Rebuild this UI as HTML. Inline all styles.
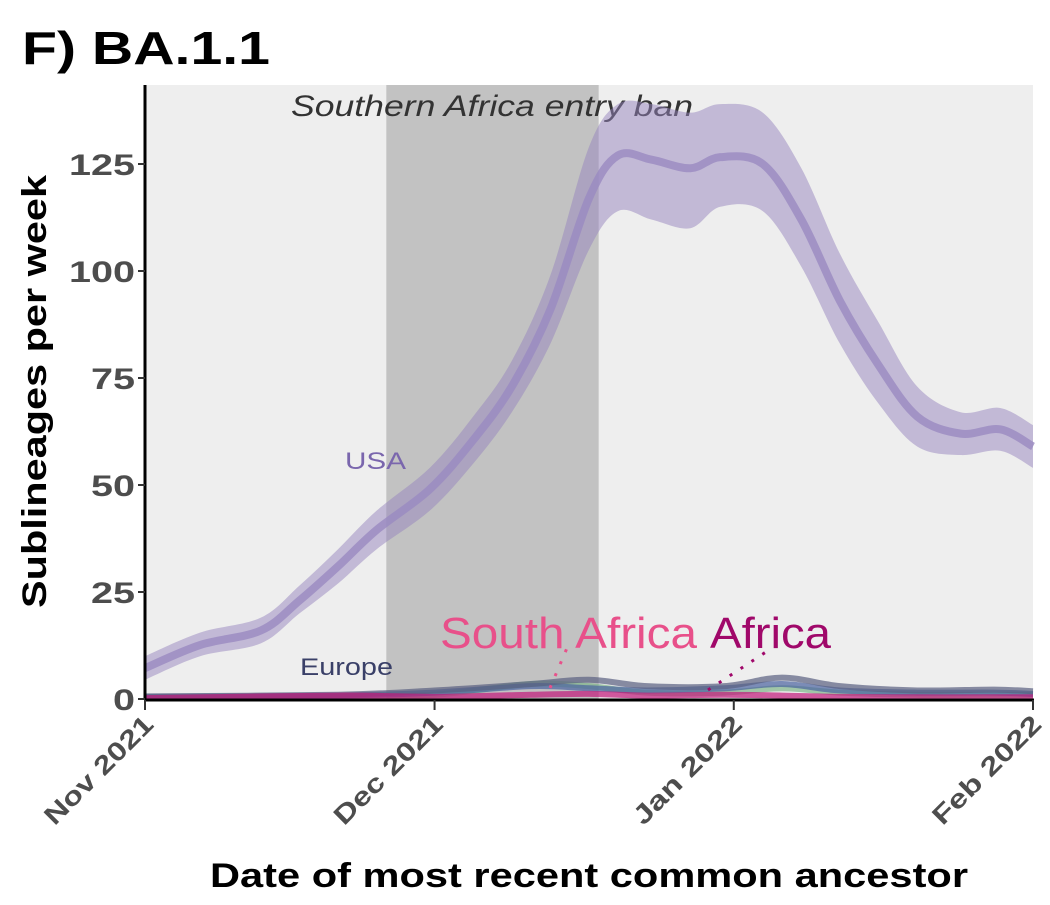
<!DOCTYPE html>
<html><head><meta charset="utf-8"><style>
body{margin:0;background:#fff;width:1050px;height:900px;overflow:hidden}
text{font-family:"Liberation Sans",sans-serif}
</style></head><body>
<svg width="1050" height="900">
<g id="plot"></g>
</svg>
<script>
const days=[0,5.7,12,16,20,24,29.5,34,38,42,46,49,52.5,56.5,59.6,64,68,72,76,80,84.5,88.6,92];
const usaMean=[7.2,12.6,16,23,31,39.5,49,60.5,73,91,117,127,126,124,126.6,125,112,93,78,66,62,63,59];
const usaLow=[4.5,10,13,20,27,35,44,55,67,83,105,114,112,110,115,114,101,83,69,59,57,58,54];
const usaHigh=[10,15.5,19,26.5,35,44,54,66,79,99,129,139,139,137,139,137,124,104,88,73,67,68,64];
const eurDays=[0,20,30,40,46,52,60,66,72,80,88,92];
const eurVals=[0.6,1,2,3.5,4.5,3,3,5,3,2,2.2,1.8];
const greenVals=[0.3,0.5,1,3.5,3,1.5,1.5,2.5,1.5,1,1,1];
const blueVals=[0.5,0.8,1.5,3,2.5,2,2.5,3.5,2,1.5,1.5,1.2];
const pinkVals=[0.2,0.8,0.5,1,1.2,0.8,1,0.8,0.5,0.4,0.4,0.4];
const yTicks=[0,25,50,75,100,125];
const xTickDays=[0,30,61,92];
const xTickLabels=["Nov 2021","Dec 2021","Jan 2022","Feb 2022"];
const x=d=>145+d*(888/92), y=v=>699-v*4.28;
const NS="http://www.w3.org/2000/svg", g=document.getElementById('plot');
function mk(t,a,txt){const e=document.createElementNS(NS,t);for(const k in a)e.setAttribute(k,a[k]);if(txt!==undefined)e.textContent=txt;g.appendChild(e);return e;}
function P(ds,vs){return ds.map((d,i)=>[x(d),y(vs[i])]);}
function smooth(p,start){let s=start?('M'+p[0][0]+','+p[0][1]):('L'+p[0][0]+','+p[0][1]);
 for(let i=0;i<p.length-1;i++){const p0=p[Math.max(0,i-1)],p1=p[i],p2=p[i+1],p3=p[Math.min(p.length-1,i+2)];
 s+=` C${p1[0]+(p2[0]-p0[0])/6},${p1[1]+(p2[1]-p0[1])/6} ${p2[0]-(p3[0]-p1[0])/6},${p2[1]-(p3[1]-p1[1])/6} ${p2[0]},${p2[1]}`;}
 return s;}
let e;
e=mk('rect',{x:145,y:85,width:888,height:614,fill:'#eeeeee'});


e=mk('rect',{x:x(25),y:85,width:x(47)-x(25),height:614,fill:'#c2c2c2'});


e=mk('text',{x:291,y:116,'font-size':30,'font-style':'italic',fill:'#333',textLength:402,lengthAdjust:'spacingAndGlyphs'},'Southern Africa entry ban');


e=mk('path',{d:smooth(P(days,usaHigh),true)+' '+smooth(P(days.slice().reverse(),usaLow.slice().reverse()),false)+'Z',fill:'#9584bd',opacity:0.5});


e=mk('path',{d:smooth(P(days,usaMean),true),fill:'none',stroke:'#9a89c0',opacity:0.8,'stroke-width':8});


const small=[[greenVals,'#7fb58a'],[blueVals,'#4a63a0'],[eurVals,'#5a6080'],[pinkVals,'#c2187a']];
small.forEach(([vs,c])=>{e=mk('path',{d:smooth(P(eurDays,vs),true),fill:'none',stroke:c,opacity:0.7,'stroke-width':6});

});
e=mk('text',{x:345,y:469,'font-size':24,fill:'#7a66ad',textLength:61,lengthAdjust:'spacingAndGlyphs'},'USA');


e=mk('text',{x:300,y:675,'font-size':24,fill:'#3a4068',textLength:93,lengthAdjust:'spacingAndGlyphs'},'Europe');


e=mk('text',{x:440,y:648,'font-size':44,fill:'#e8508a',textLength:257,lengthAdjust:'spacingAndGlyphs'},'South Africa');


e=mk('text',{x:710,y:648,'font-size':44,fill:'#a0086a',textLength:121,lengthAdjust:'spacingAndGlyphs'},'Africa');


e=mk('line',{x1:550,y1:688,x2:567,y2:648,stroke:'#e8508a','stroke-width':3,'stroke-dasharray':'3 10'});


e=mk('line',{x1:708,y1:690,x2:772,y2:648,stroke:'#a0086a','stroke-width':3,'stroke-dasharray':'3 10'});


e=mk('line',{x1:145,y1:85,x2:145,y2:700,stroke:'#000','stroke-width':3});


e=mk('line',{x1:144,y1:700,x2:1034,y2:700,stroke:'#000','stroke-width':3});


yTicks.forEach(v=>{
 e=mk('line',{x1:138,y1:y(v),x2:145,y2:y(v),stroke:'#333','stroke-width':2});
 
 
 const s=String(v);
 e=mk('text',{x:135-22*s.length,y:y(v)+11,'font-size':30,'font-weight':'bold',fill:'#4d4d4d',textLength:22*s.length,lengthAdjust:'spacingAndGlyphs'},s);
 
 
});
xTickDays.forEach((d,i)=>{
 e=mk('line',{x1:x(d),y1:700,x2:x(d),y2:710,stroke:'#333','stroke-width':2});
 
 
 const ax=x(d)+10, ay=726;
 e=mk('text',{x:ax-142,y:ay,'font-size':26,'font-weight':'bold',fill:'#4d4d4d',textLength:142,lengthAdjust:'spacingAndGlyphs',transform:`rotate(-45 ${ax} ${ay})`},xTickLabels[i]);
 
 
});
e=mk('text',{x:210,y:887,'font-size':34,'font-weight':'bold',textLength:758,lengthAdjust:'spacingAndGlyphs'},'Date of most recent common ancestor');


e=mk('text',{x:46,y:608,'font-size':34,'font-weight':'bold',textLength:433,lengthAdjust:'spacingAndGlyphs',transform:'rotate(-90 46 608)'},'Sublineages per week');


e=mk('text',{x:22,y:64,'font-size':46,'font-weight':'bold',textLength:248,lengthAdjust:'spacingAndGlyphs'},'F) BA.1.1');


</script>
</body></html>
